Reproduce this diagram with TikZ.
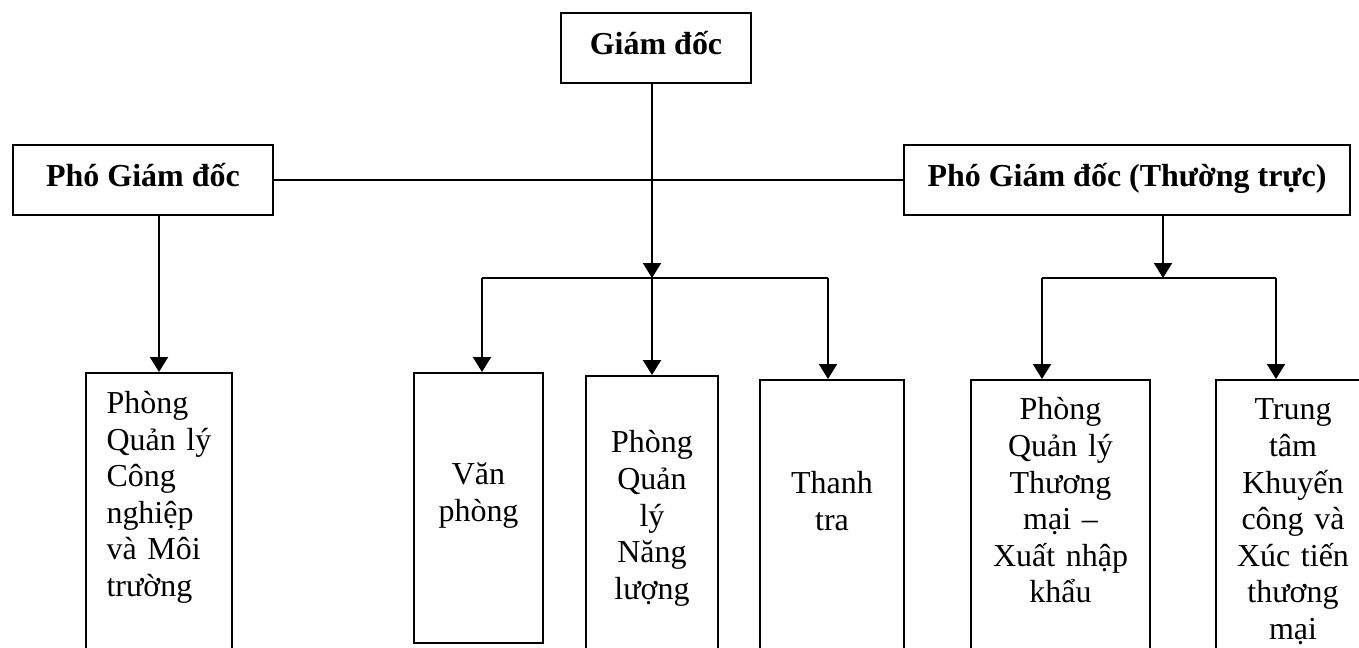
\documentclass[tikz,border=0pt]{standalone}
\usepackage{fontspec}
\setmainfont{Liberation Serif}
\usepackage{tikz}
\usetikzlibrary{arrows.meta}

\tikzset{
  head/.style={draw, rectangle, line width=1.1pt, font=\fontsize{18.2pt}{20.8pt}\selectfont\bfseries, minimum height=1.4cm, text height=0.46cm, text depth=0.18cm},
  unit/.style={draw, rectangle, line width=1.1pt, anchor=north, inner sep=0pt, align=center},
  link/.style={line width=1.2pt},
  arrow/.style={link, -{Triangle[length=0.3cm, width=0.36cm]}}
}

\begin{document}
\begin{tikzpicture}[x=0.02cm, y=-0.02cm, font=\fontsize{18.2pt}{20.8pt}\selectfont]
                  \useasboundingbox (0,0) rectangle (1359,648);
                  \clip (0,0) rectangle (1359,648);

                  % Leaders
                  \node [head, minimum width=3.8cm] (gd) at (656,48) {Giám đốc};
                  \node [head, minimum width=5.2cm] (pgd1) at (143,180) {Phó Giám đốc};
                  \node [head, minimum width=8.92cm] (pgd2) at (1127,180) {Phó Giám đốc (Thường trực)};

                  % Departments
                  \node [unit, align=left, inner xsep=0.41cm, text width=2.1cm, text height=0.81cm, text depth=5.04cm] (cn) at (159,372) {Phòng\\Quản lý\\Công\\nghiệp\\và Môi\\trường};
                  \node [unit, text width=2.58cm, text height=2.24cm, text depth=3.16cm] (vp) at (478.5,372) {Văn\\phòng};
                  \node [unit, text width=2.64cm, text height=1.54cm, text depth=4.26cm] (ql) at (652,375) {Phòng\\Quản\\lý\\Năng\\lượng};
                  \node [unit, text width=2.88cm, text height=2.28cm, text depth=3.44cm] (tt) at (832,379) {Thanh\\tra};
                  \node [unit, text width=3.58cm, text height=0.8cm, text depth=4.92cm] (tm) at (1060.5,379) {Phòng\\Quản lý\\Thương\\mại --\\Xuất nhập\\khẩu};
                  \node [unit, text width=3.08cm, text height=0.8cm, text depth=4.92cm] (kc) at (1293,379) {Trung\\tâm\\Khuyến\\công và\\Xúc tiến\\thương\\mại};

                  % Bus points
                  \coordinate (hub1) at (652,278);
                  \coordinate (b1l) at (482,278);
                  \coordinate (b1r) at (828,278);
                  \coordinate (hub2) at (1163,278);
                  \coordinate (b2l) at (1042,278);
                  \coordinate (b2r) at (1276,278);

                  % Lines between leaders
                  \draw [link] (pgd1.east) -- (pgd2.west);
                  \draw [arrow] (gd.south -| hub1) -- (hub1);
                  \draw [arrow] (pgd1.south -| cn.north) -- (cn.north);
                  \draw [arrow] (pgd2.south -| hub2) -- (hub2);

                  % Arrows to departments
                  \draw [link] (b1l) -- (b1r);
                  \draw [arrow] (b1l) -- (b1l |- vp.north);
                  \draw [arrow] (hub1) -- (hub1 |- ql.north);
                  \draw [arrow] (b1r) -- (b1r |- tt.north);
                  \draw [link] (b2l) -- (b2r);
                  \draw [arrow] (b2l) -- (b2l |- tm.north);
                  \draw [arrow] (b2r) -- (b2r |- kc.north);
\end{tikzpicture}
\end{document}
